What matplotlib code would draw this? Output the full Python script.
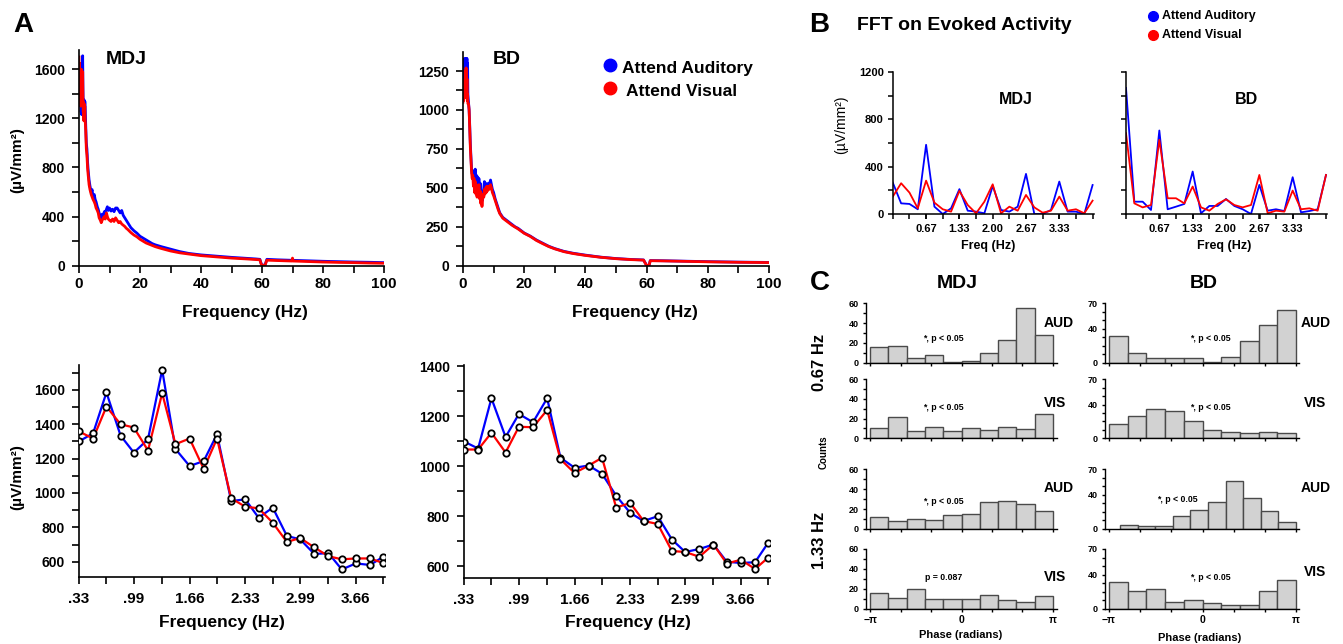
import numpy as np
import matplotlib
matplotlib.use("Agg")
import matplotlib.pyplot as plt
from matplotlib.lines import Line2D
from matplotlib.ticker import MultipleLocator, FixedLocator

# ---------------- DATA ----------------
# Panel A top: power spectra (Hz, uV/mm^2)
mdj_aud_f = [0.0, 0.1, 0.2, 0.3, 0.4, 0.5, 0.6, 0.7, 0.8, 0.9, 1.0, 1.1, 1.2, 1.3, 1.4, 1.5, 1.6, 1.7, 1.8, 1.9,
             2.0, 2.2, 2.4, 2.6, 2.8, 3.0, 3.3, 3.6, 4.0, 4.3, 4.6, 5.0, 5.3, 5.6, 6.0, 6.3, 6.6, 7.0, 7.3, 7.6,
             8.0, 8.3, 8.6, 9.0, 9.3, 9.6, 10, 10.5, 11, 11.5, 12, 12.5, 13, 13.5, 14, 14.5, 15, 15.5, 16, 17,
             18, 19, 20, 21, 22, 23, 24, 25, 27, 30, 33, 36, 40, 45, 50, 55, 58, 59.3, 59.7, 60, 61, 61.3, 61.6,
             65, 70, 75, 80, 85, 90, 95, 100]
mdj_aud_v = [1350, 1600, 1320, 1550, 1400, 1300, 1450, 1250, 1350, 1230, 1400, 1550, 1710, 1450, 1300, 1260, 1200, 1350, 1300, 1340,
             1320, 1150, 1000, 950, 850, 780, 700, 650, 600, 620, 560, 580, 540, 520, 480, 460, 430, 400, 390, 420,
             410, 440, 430, 460, 480, 450, 470, 445, 460, 440, 470, 470, 450, 430, 450, 410, 390, 370, 350, 310,
             285, 265, 240, 225, 210, 195, 180, 170, 155, 135, 115, 100, 88, 78, 68, 60, 55, 52, 20, 5, 5, 30, 52,
             48, 44, 40, 36, 33, 30, 28, 25]
mdj_vis_f = [0.0, 0.1, 0.2, 0.3, 0.4, 0.5, 0.6, 0.7, 0.8, 0.9, 1.0, 1.1, 1.2, 1.3, 1.4, 1.5, 1.6, 1.7, 1.8, 1.9,
             2.0, 2.2, 2.4, 2.6, 2.8, 3.0, 3.3, 3.6, 4.0, 4.3, 4.6, 5.0, 5.3, 5.6, 6.0, 6.3, 6.6, 7.0, 7.3, 7.6,
             8.0, 8.3, 8.6, 9.0, 9.3, 9.6, 10, 10.5, 11, 11.5, 12, 12.5, 13, 13.5, 14, 14.5, 15, 15.5, 16, 17,
             18, 19, 20, 21, 22, 23, 24, 25, 27, 30, 33, 36, 40, 45, 50, 55, 58, 59.3, 59.7, 60, 61, 61.3, 61.6,
             65, 69.8, 70, 70.2, 75, 80, 85, 90, 95, 100]
mdj_vis_v = [1700, 1400, 1650, 1350, 1580, 1300, 1500, 1400, 1600, 1350, 1450, 1300, 1580, 1350, 1250, 1330, 1180, 1320, 1250, 1300,
             1200, 1100, 950, 900, 800, 740, 660, 620, 580, 560, 540, 520, 500, 470, 450, 430, 390, 370, 350, 370,
             390, 400, 380, 430, 400, 380, 370, 360, 380, 360, 390, 370, 350, 360, 340, 330, 320, 305, 295, 270,
             250, 235, 215, 200, 185, 175, 165, 155, 140, 120, 105, 95, 82, 72, 62, 55, 50, 48, 15, 3, 3, 25, 45,
             42, 38, 62, 38, 34, 30, 27, 25, 22, 20]
bd_aud_f = [0.0, 0.1, 0.2, 0.3, 0.4, 0.5, 0.6, 0.7, 0.8, 0.9, 1.0, 1.1, 1.2, 1.3, 1.4, 1.5, 1.6, 1.8, 2.0, 2.2,
            2.4, 2.6, 2.8, 3.0, 3.2, 3.4, 3.6, 3.8, 4.0, 4.2, 4.4, 4.6, 4.8, 5.0, 5.2, 5.4, 5.6, 5.8, 6.0, 6.2,
            6.4, 6.6, 6.8, 7.0, 7.2, 7.4, 7.6, 7.8, 8.0, 8.3, 8.6, 9.0, 9.3, 9.6, 10, 10.5, 11, 11.5, 12, 13,
            14, 15, 16, 17, 18, 19, 20, 22, 24, 26, 28, 30, 33, 36, 40, 45, 50, 55, 59, 59.5, 60, 60.8, 61.2,
            65, 70, 80, 90, 100]
bd_aud_v = [1100, 1200, 1080, 1250, 1150, 1330, 1250, 1320, 1200, 1330, 1260, 1330, 1280, 1330, 1200, 1300, 1100, 1050, 1000, 900,
            780, 700, 620, 590, 610, 550, 600, 540, 620, 530, 580, 500, 570, 480, 560, 470, 530, 450, 480, 430,
            420, 470, 500, 540, 500, 530, 490, 520, 500, 530, 510, 550, 520, 490, 470, 430, 400, 370, 340, 310,
            295, 280, 265, 250, 240, 225, 210, 190, 165, 145, 125, 110, 92, 80, 68, 55, 46, 40, 37, 20, 2, 2, 33,
            32, 30, 26, 23, 21]
bd_vis_f = bd_aud_f
bd_vis_v = [1050, 1120, 1060, 1150, 1080, 1100, 1200, 1080, 1250, 1120, 1270, 1150, 1080, 1200, 1060, 1100, 1040, 1040, 1000, 880,
            760, 680, 600, 560, 580, 510, 560, 470, 540, 460, 520, 440, 500, 450, 520, 430, 480, 400, 450, 380,
            430, 460, 440, 490, 460, 500, 470, 510, 480, 510, 490, 520, 500, 470, 450, 420, 390, 360, 335, 305,
            290, 275, 260, 248, 236, 222, 208, 188, 162, 142, 123, 108, 90, 78, 66, 54, 45, 39, 36, 18, 2, 2, 32,
            31, 29, 25, 22, 20]

# Panel A bottom: low-frequency spectra
low_freq = [0.33, 0.50, 0.66, 0.83, 0.99, 1.16, 1.33, 1.49, 1.66, 1.83, 1.99, 2.16, 2.33, 2.49, 2.66, 2.83,
            2.99, 3.16, 3.33, 3.49, 3.66, 3.83, 3.99]
low_ticklabels = ['.33', '.99', '1.66', '2.33', '2.99', '3.66']
mdj_low_aud = [1300, 1348, 1585, 1334, 1235, 1313, 1717, 1256, 1157, 1186, 1342, 953, 963, 856, 915, 750,
               730, 645, 650, 555, 590, 581, 629]
mdj_low_vis = [1358, 1317, 1503, 1400, 1381, 1247, 1581, 1284, 1317, 1140, 1317, 969, 920, 911, 827, 715,
               738, 683, 632, 614, 619, 619, 592]
bd_low_aud = [1098, 1070, 1271, 1116, 1208, 1175, 1271, 1033, 993, 1002, 969, 881, 812, 780, 799, 706,
              656, 668, 686, 617, 612, 615, 694]
bd_low_vis = [1066, 1066, 1133, 1054, 1157, 1155, 1224, 1027, 972, 1002, 1033, 834, 852, 780, 768, 660,
              656, 637, 686, 610, 625, 588, 634]

# Panel B: FFT on evoked activity
evk_freq = [k / 6 for k in range(25)]
evk_ticks = [0.67, 1.33, 2.00, 2.67, 3.33]
evk_ticklabels = ['0.67', '1.33', '2.00', '2.67', '3.33']
evk_mdj_aud = [265, 90, 85, 40, 585, 62, 0, 48, 210, 28, 20, 6, 237, 34, 20, 62, 339, 0, 0, 34, 274, 20, 20, 0, 245]
evk_mdj_vis = [147, 260, 181, 48, 282, 96, 40, 20, 195, 76, 6, 104, 251, 6, 62, 28, 161, 56, 11, 28, 147, 28, 40, 6, 113]
evk_bd_aud = [1065, 104, 104, 34, 706, 40, 62, 85, 359, 6, 68, 68, 127, 68, 40, 0, 246, 28, 40, 25, 311, 14, 25, 40, 330]
evk_bd_vis = [683, 90, 56, 76, 627, 133, 133, 90, 232, 56, 28, 85, 124, 76, 56, 76, 330, 6, 28, 20, 198, 40, 48, 28, 330]

# Panel C: phase histograms (counts per bin, 10 bins from -pi to pi)
mdj_067_aud = [16, 17, 5, 8, 1, 2, 10, 23, 55, 28]
mdj_067_vis = [10, 22, 7, 11, 7, 10, 8, 11, 9, 25]
mdj_133_aud = [12, 8, 10, 9, 14, 15, 27, 28, 25, 18]
mdj_133_vis = [16, 11, 20, 10, 10, 10, 14, 9, 7, 13]
bd_067_aud = [32, 11, 6, 6, 5, 1, 7, 26, 45, 62]
bd_067_vis = [17, 27, 35, 32, 20, 10, 8, 6, 8, 6]
bd_133_aud = [5, 4, 4, 15, 22, 32, 56, 36, 21, 8]
bd_133_vis = [31, 21, 23, 8, 10, 7, 5, 5, 21, 34]
bd_133_aud_start = -np.pi + 0.37
p_texts = ['*, p < 0.05', '*, p < 0.05', '*, p < 0.05', 'p = 0.087',
           '*, p < 0.05', '*, p < 0.05', '*, p < 0.05', '*, p < 0.05']

# ---------------- FIGURE ----------------
plt.rcParams['font.family'] = ['Liberation Sans', 'DejaVu Sans']
plt.rcParams['font.weight'] = 'bold'
plt.rcParams['mathtext.default'] = 'regular'

W, H = 1343, 644
fig = plt.figure(figsize=(W / 100, H / 100), dpi=100)
fig.patch.set_facecolor('white')
BLUE, RED = '#0000ff', '#ff0000'


def axpx(l, t, r, b):
    return fig.add_axes([l / W, 1 - b / H, (r - l) / W, (b - t) / H])


def ftext(x, y, s, **kw):
    kw.setdefault('ha', 'center')
    kw.setdefault('va', 'center')
    return fig.text(x / W, 1 - y / H, s, **kw)


def dot(x, y, c, ms):
    fig.add_artist(Line2D([x / W], [1 - y / H], marker='o', ms=ms, color=c, mec=c,
                          transform=fig.transFigure, linestyle='none'))


def style(ax, lw=1.2, fs=10, tl=4, fsx=None, ypad=2, xpad=2):
    for s in ['top', 'right']:
        ax.spines[s].set_visible(False)
    for s in ['left', 'bottom']:
        ax.spines[s].set_linewidth(lw)
    ax.tick_params(which='both', direction='out', width=lw, length=tl, labelsize=fs)
    ax.tick_params(axis='y', pad=ypad)
    ax.tick_params(axis='x', pad=xpad)
    if fsx is not None:
        ax.tick_params(axis='x', labelsize=fsx)


ulabel = '(\u00b5V/mm\u00b2)'

# ---- Panel A top-left (MDJ)
ax = axpx(79, 50, 384, 265.7)
ax.plot(mdj_aud_f, mdj_aud_v, color=BLUE, lw=2.0)
ax.plot(mdj_vis_f, mdj_vis_v, color=RED, lw=2.0)
ax.set_xlim(0, 100); ax.set_ylim(0, 1757)
ax.xaxis.set_major_locator(MultipleLocator(20)); ax.xaxis.set_minor_locator(MultipleLocator(10))
ax.yaxis.set_major_locator(FixedLocator([0, 400, 800, 1200, 1600])); ax.yaxis.set_minor_locator(MultipleLocator(200))
style(ax, fs=10, fsx=11, tl=5, ypad=5, xpad=3)

# ---- Panel A top-right (BD)
ax = axpx(463, 52, 769, 265.7)
ax.plot(bd_aud_f, bd_aud_v, color=BLUE, lw=2.0)
ax.plot(bd_vis_f, bd_vis_v, color=RED, lw=2.0)
ax.set_xlim(0, 100); ax.set_ylim(0, 1372)
ax.xaxis.set_major_locator(MultipleLocator(20)); ax.xaxis.set_minor_locator(MultipleLocator(10))
ax.yaxis.set_major_locator(FixedLocator([0, 250, 500, 750, 1000, 1250])); ax.yaxis.set_minor_locator(MultipleLocator(125))
style(ax, fs=10, fsx=11, tl=5, ypad=5, xpad=3)


# ---- Panel A bottom
def low_panel(box, aud, vis, ylim, yt):
    ax = axpx(*box)
    ax.plot(low_freq, aud, color=BLUE, lw=1.6, zorder=2)
    ax.plot(low_freq, vis, color=RED, lw=1.6, zorder=3)
    for v in (aud, vis):
        ax.plot(low_freq, v, linestyle='none', marker='o', ms=4.6, mfc='white', mec='black', mew=1.3, zorder=4)
    ax.set_xlim(0.33, 4.01); ax.set_ylim(*ylim)
    ax.set_xticks(low_freq[::4]); ax.set_xticklabels(low_ticklabels)
    ax.xaxis.set_minor_locator(FixedLocator(low_freq[::2]))
    ax.yaxis.set_major_locator(FixedLocator(yt)); ax.yaxis.set_minor_locator(MultipleLocator(100))
    style(ax, fs=10, fsx=11, tl=5, ypad=5, xpad=6)
    return ax


low_panel((79, 365, 385, 577), mdj_low_aud, mdj_low_vis, (511, 1745), [600, 800, 1000, 1200, 1400, 1600])
low_panel((464, 365, 770, 578), bd_low_aud, bd_low_vis, (552, 1404), [600, 800, 1000, 1200, 1400])

# Panel A texts
ftext(23, 25, 'A', fontsize=20)
ftext(126, 60, 'MDJ', fontsize=14)
ftext(507, 60, 'BD', fontsize=14)
dot(610, 65, BLUE, 9); dot(610, 88, RED, 9)
ftext(622, 68, 'Attend Auditory', fontsize=12.5, ha='left')
ftext(626, 91, 'Attend Visual', fontsize=12.5, ha='left')
for (x, y) in [(245, 312), (635, 312), (222, 623), (628, 623)]:
    ftext(x, y, 'Frequency (Hz)', fontsize=12.5)
ftext(17, 160, ulabel, fontsize=11, rotation=90)
ftext(17, 477, ulabel, fontsize=11, rotation=90)


# ---- Panel B
def evk_panel(box, aud, vis, labels):
    ax = axpx(*box)
    ax.plot(evk_freq, aud, color=BLUE, lw=1.3)
    ax.plot(evk_freq, vis, color=RED, lw=1.3)
    ax.set_xlim(0, 4.02); ax.set_ylim(0, 1200)
    ax.set_xticks(evk_ticks); ax.set_xticklabels(evk_ticklabels)
    ax.xaxis.set_minor_locator(MultipleLocator(1 / 3))
    ax.yaxis.set_major_locator(FixedLocator([0, 400, 800, 1200])); ax.yaxis.set_minor_locator(MultipleLocator(200))
    style(ax, lw=1.1, fs=8, tl=3.5, ypad=3, xpad=4)
    if not labels:
        ax.set_yticklabels([])
    return ax


evk_panel((892.8, 72, 1093.6, 214), evk_mdj_aud, evk_mdj_vis, True)
evk_panel((1126, 72, 1327, 214), evk_bd_aud, evk_bd_vis, False)
ftext(819, 25, 'B', fontsize=20)
ftext(857, 25, 'FFT on Evoked Activity', fontsize=14, ha='left')
dot(1152.5, 16, BLUE, 7); dot(1152.5, 35, RED, 7)
ftext(1162, 16, 'Attend Auditory', fontsize=9, ha='left')
ftext(1162, 35, 'Attend Visual', fontsize=9, ha='left')
ftext(1016, 100, 'MDJ', fontsize=11.5)
ftext(1246, 100, 'BD', fontsize=11.5)
ftext(841, 125, ulabel, fontsize=10, rotation=90, fontweight='normal')
ftext(988, 246, 'Freq (Hz)', fontsize=9)
ftext(1224, 246, 'Freq (Hz)', fontsize=9)


# ---- Panel C
def hist_panel(box, counts, ymax, yt, xl, bottom_row, start=-np.pi):
    ax = axpx(*box)
    w = (np.pi - start) / len(counts)
    lefts = [start + i * w for i in range(len(counts))]
    ax.bar(lefts, counts, width=w, align='edge', color='#d2d2d2', edgecolor='#4a4a4a', linewidth=1.0)
    ax.set_xlim(*xl); ax.set_ylim(0, ymax)
    ax.yaxis.set_major_locator(FixedLocator(yt)); ax.yaxis.set_minor_locator(MultipleLocator(10))
    ax.xaxis.set_major_locator(FixedLocator([-np.pi, 0, np.pi]))
    ax.xaxis.set_minor_locator(FixedLocator([k * np.pi / 3 for k in range(-3, 4)]))
    style(ax, lw=1.0, fs=6.5, tl=2.5, ypad=3, xpad=2)
    if bottom_row:
        ax.set_xticklabels(['\u2212\u03c0', '0', '\u03c0'], fontsize=7.5)
    else:
        ax.set_xticklabels([])
    return ax


xl_m = (-np.pi - 0.14, np.pi + 0.14)
xl_b = (-np.pi - 0.134, np.pi + 0.1)
rows = [(303.3, 362.7), (379.3, 438.3), (469.3, 529), (549, 609)]
mdj_sets = [mdj_067_aud, mdj_067_vis, mdj_133_aud, mdj_133_vis]
bd_sets = [bd_067_aud, bd_067_vis, bd_133_aud, bd_133_vis]
for i, (t, b) in enumerate(rows):
    hist_panel((866, t, 1057, b), mdj_sets[i], 60, [0, 20, 40, 60], xl_m, i == 3)
    hist_panel((1105, t, 1299, b), bd_sets[i], 70, [0, 40, 70], xl_b, i == 3,
               start=bd_133_aud_start if i == 2 else -np.pi)

ftext(820, 283, 'C', fontsize=20)
ftext(957, 283, 'MDJ', fontsize=14)
ftext(1204, 283, 'BD', fontsize=14)
for (x, y, s) in [(1059, 323, 'AUD'), (1055, 403, 'VIS'), (1316, 323, 'AUD'), (1315, 403, 'VIS'),
                  (1059, 488, 'AUD'), (1055, 577, 'VIS'), (1316, 488, 'AUD'), (1315, 572, 'VIS')]:
    ftext(x, y, s, fontsize=10)
p_pos = [(943, 338), (943, 407), (943, 501), (944, 577), (1210, 338), (1210, 407), (1177, 500), (1210, 577)]
for (x, y), s in zip(p_pos, p_texts):
    ftext(x, y, s, fontsize=6.3)
ftext(819, 362, '0.67 Hz', fontsize=12, rotation=90)
ftext(819, 540, '1.33 Hz', fontsize=12, rotation=90)
ftext(824, 452, 'Counts', fontsize=7, rotation=90)
ftext(961, 635, 'Phase (radians)', fontsize=8)
ftext(1200, 638, 'Phase (radians)', fontsize=8)

fig.savefig('out.png', dpi=100, facecolor='white')
